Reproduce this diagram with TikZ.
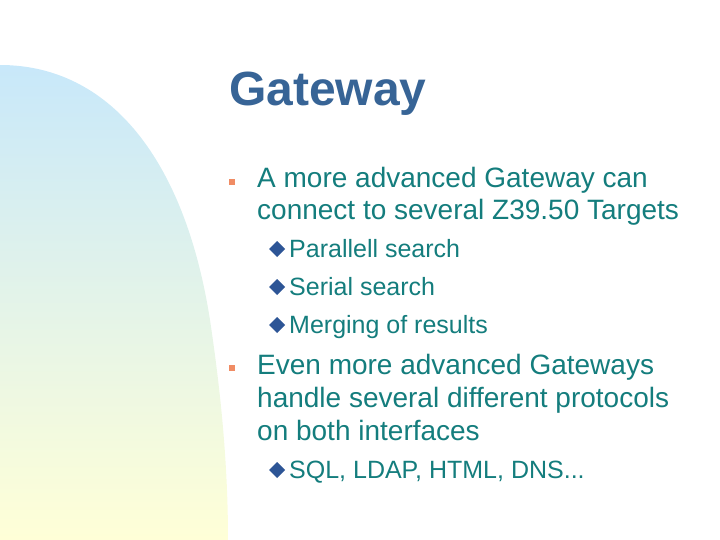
\documentclass[tikz,border=0pt]{standalone}
\usepackage{fontspec}
\setmainfont{Liberation Sans}
\definecolor{txt}{RGB}{20,125,125}
\definecolor{ttl}{RGB}{55,100,150}
\definecolor{dia}{RGB}{45,85,150}
\definecolor{sq}{RGB}{240,140,100}
\definecolor{topb}{RGB}{200,232,250}
\definecolor{botb}{RGB}{255,255,215}
\begin{document}
\begin{tikzpicture}[x=1pt,y=-1pt,
  body/.style={anchor=base west,text=txt,font=\fontsize{28}{33}\selectfont,inner sep=0},
  sub/.style={anchor=base west,text=txt,font=\fontsize{25}{28}\selectfont,inner sep=0},
  sqb/.style={fill=sq,minimum size=6pt,inner sep=0}]
\useasboundingbox (0,0) rectangle (720,540);
\shade[top color=topb,bottom color=botb] (0,65) .. controls (110,65) and (185,160) .. (210,320) .. controls (222,400) and (228,470) .. (228,540) -- (0,540) -- cycle;
\node[anchor=base west,text=ttl,font=\fontsize{48}{54}\selectfont\bfseries,inner sep=0] (title) at (229,106) {Gateway};
\node[sqb] (b1) at (232,182) {};
\node[body] (t1) at (257,188) {A more advanced Gateway can};
\node[body] (t2) at (257,220) {connect to several Z39.50 Targets};
\fill[dia] (277,241)--(285,249)--(277,257)--(269,249)--cycle;
\node[sub] (s1) at (289,257) {Parallell search};
\fill[dia] (277,279)--(285,287)--(277,295)--(269,287)--cycle;
\node[sub] (s2) at (289,295) {Serial search};
\fill[dia] (277,317)--(285,325)--(277,333)--(269,325)--cycle;
\node[sub] (s3) at (289,333) {Merging of results};
\node[sqb] (b2) at (232,368) {};
\node[body] (t3) at (257,374) {Even more advanced Gateways};
\node[body] (t4) at (257,407) {handle several different protocols};
\node[body] (t5) at (257,440) {on both interfaces};
\fill[dia] (277,462)--(285,470)--(277,478)--(269,470)--cycle;
\node[sub] (s4) at (289,478) {SQL, LDAP, HTML, DNS...};
\end{tikzpicture}
\end{document}
